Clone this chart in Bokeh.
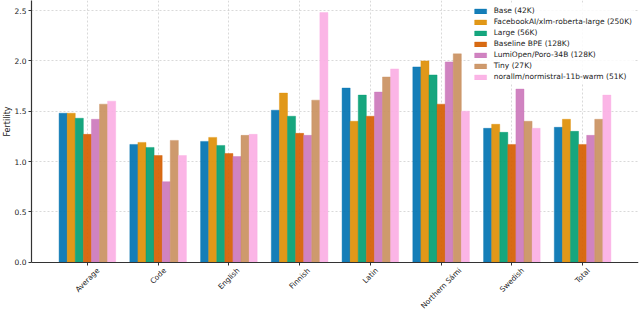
import math
from bokeh.plotting import figure
from bokeh.models import (Range1d, FixedTicker, Legend, LegendItem, ColumnDataSource,
                          BoxAnnotation, Title)
from bokeh.core.properties import value
from bokeh.embed import file_html
from bokeh.resources import INLINE

categories = ["Average", "Code", "English", "Finnish", "Latin", "Northern Sámi", "Swedish", "Total"]
series_names = [
    "Base (42K)",
    "FacebookAI/xlm-roberta-large (250K)",
    "Large (56K)",
    "Baseline BPE (128K)",
    "LumiOpen/Poro-34B (128K)",
    "Tiny (27K)",
    "norallm/normistral-11b-warm (51K)",
]
colors = ["#0173B2", "#DE8F05", "#029E73", "#D55E00", "#CC78BC", "#CA9161", "#FBAFE4"]

base_42k = [1.48, 1.17, 1.20, 1.51, 1.73, 1.94, 1.33, 1.34]
xlmr_250k = [1.48, 1.19, 1.24, 1.68, 1.40, 2.00, 1.37, 1.42]
large_56k = [1.43, 1.14, 1.16, 1.45, 1.66, 1.86, 1.29, 1.30]
bpe_128k = [1.27, 1.06, 1.08, 1.28, 1.45, 1.57, 1.17, 1.17]
poro_128k = [1.42, 0.80, 1.05, 1.26, 1.69, 1.99, 1.72, 1.26]
tiny_27k = [1.57, 1.21, 1.26, 1.61, 1.84, 2.07, 1.40, 1.42]
normistral_51k = [1.60, 1.06, 1.27, 2.48, 1.92, 1.50, 1.33, 1.66]

series_values = [base_42k, xlmr_250k, large_56k, bpe_128k, poro_128k, tiny_27k, normistral_51k]

y_ticks = [0.0, 0.5, 1.0, 1.5, 2.0, 2.5]
Y_TOP = 2.6

FONT = "DejaVu Sans"
XLABEL_SIZE = 7.4

# approximate DejaVu Sans advance widths (units per em = 2048), used only to
# centre the rotated category labels under their ticks
_ADV = {"A": 1401, "C": 1430, "E": 1294, "F": 1178, "L": 1141, "N": 1532, "S": 1300,
        "T": 1251, "a": 1255, "d": 1300, "e": 1260, "g": 1300, "h": 1298, "i": 569,
        "l": 569, "m": 1995, "n": 1298, "o": 1253, "r": 842, "s": 1067, "t": 803,
        "v": 1212, "w": 1675, "á": 1255, " ": 651}


def text_width(s, size):
    return sum(_ADV.get(ch, 1250) for ch in s) / 2048.0 * size


p = figure(width=640, height=310, output_backend="svg", toolbar_location=None,
           x_range=Range1d(-0.79, 7.79), y_range=Range1d(-0.48, Y_TOP),
           min_border_left=18, min_border_right=2, min_border_top=0, min_border_bottom=0)
p.outline_line_color = None
p.background_fill_color = "white"
p.border_fill_color = "white"

# keep the label area under the x axis free of grid lines
p.add_layout(BoxAnnotation(top=0, fill_color="white", fill_alpha=1.0, line_color=None,
                           level="underlay"))

n = len(series_values)
w = 0.8 / n
items = []
for i, (name, vals, col) in enumerate(zip(series_names, series_values, colors)):
    xs = [k + (i - (n - 1) / 2) * w for k in range(len(categories))]
    src = ColumnDataSource(dict(x=xs, top=vals))
    r = p.vbar(x="x", top="top", width=w, bottom=0, source=src,
               fill_color=col, fill_alpha=0.92, line_color=col, line_alpha=0.5, line_width=0.8)
    items.append(LegendItem(label=name, renderers=[r]))

cat_ticks = list(range(len(categories)))
p.xaxis.fixed_location = 0
p.xaxis.ticker = FixedTicker(ticks=cat_ticks)
p.xaxis.major_label_overrides = {k: "" for k in cat_ticks}
p.yaxis.ticker = FixedTicker(ticks=y_ticks)
p.yaxis.major_label_overrides = {t: f"{t:.1f}" for t in y_ticks}
p.yaxis.bounds = (0, Y_TOP)

for ax in (p.xaxis[0], p.yaxis[0]):
    ax.major_label_text_font = FONT
    ax.major_label_text_font_size = "7.5px"
    ax.major_label_text_color = "#222222"
    ax.axis_line_color = "#333333"
    ax.axis_line_width = 1.2
    ax.major_tick_line_color = "#333333"
    ax.major_tick_in = 0
    ax.major_tick_out = 3
    ax.minor_tick_line_color = None
    ax.major_label_standoff = 2

# y axis title, placed at the centre of the 0..2.6 span
ytitle = Title(text="Fertility", align="right", offset=106, text_font=FONT,
               text_font_size="8px", text_font_style="normal", text_color="#222222",
               standoff=0)
p.add_layout(ytitle, "left")

# rotated category labels centred below each tick (rotated 45 degrees)
lab_offsets = [5.0 + (text_width(c, XLABEL_SIZE) + 0.75 * XLABEL_SIZE) * 0.3536
               for c in categories]
lab_src = ColumnDataSource(dict(x=cat_ticks, y=[0] * len(categories), text=categories,
                                yoff=lab_offsets))
p.text(x="x", y="y", text="text", source=lab_src, y_offset="yoff", angle=math.pi / 4,
       text_align="center", text_baseline="middle", text_font=value(FONT),
       text_font_size=f"{XLABEL_SIZE}px", text_color="#222222")

for g in (p.xgrid[0], p.ygrid[0]):
    g.grid_line_color = "#bbbbbb"
    g.grid_line_alpha = 0.7
    g.grid_line_dash = "2 2"
    g.grid_line_width = 0.8
p.xgrid.ticker = FixedTicker(ticks=cat_ticks)
p.ygrid.ticker = FixedTicker(ticks=y_ticks)

legend = Legend(items=items, location="top_right")
legend.label_text_font = FONT
legend.label_text_font_size = "7.5px"
legend.label_text_color = "#222222"
legend.label_height = 9
legend.label_standoff = 6
legend.glyph_width = 15
legend.glyph_height = 6
legend.spacing = 2
legend.padding = 2
legend.margin = 4
legend.border_line_alpha = 0
legend.background_fill_alpha = 0.85
p.add_layout(legend)

open("out.html", "w").write(file_html(p, INLINE))
